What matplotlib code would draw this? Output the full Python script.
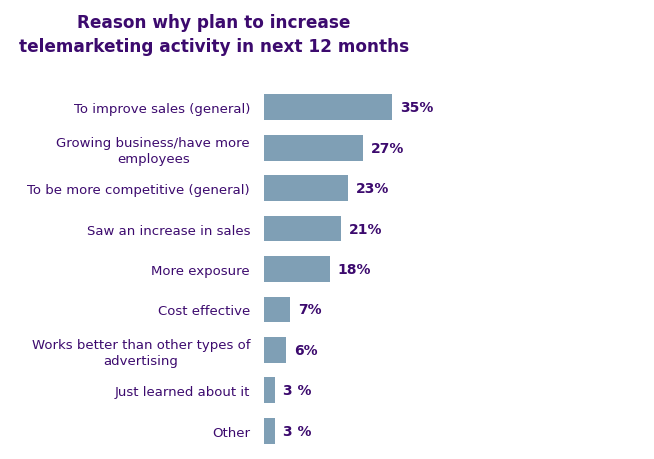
import numpy as np
import matplotlib.pyplot as plt

reasons = [
    "To improve sales (general)",
    "Growing business/have more\nemployees",
    "To be more competitive (general)",
    "Saw an increase in sales",
    "More exposure",
    "Cost effective",
    "Works better than other types of\nadvertising",
    "Just learned about it",
    "Other",
]
values = [35, 27, 23, 21, 18, 7, 6, 3, 3]
value_labels = ["35%", "27%", "23%", "21%", "18%", "7%", "6%", "3 %", "3 %"]

purple = "#3c0a6e"
bar_color = "#7f9fb5"

W, H = 654, 460
fig = plt.figure(figsize=(W / 100, H / 100), dpi=100)
# axes placed in pixel coords
ax = fig.add_axes([264 / W, (H - 452) / H, (W - 264) / W, (452 - 88) / H])

y = np.arange(len(values))
ax.barh(y, values, height=0.64, color=bar_color)
ax.set_ylim(len(values) - 0.5, -0.5)
ax.set_xlim(0, (W - 264) / 3.66)

for yi, v, lab in zip(y, values, value_labels):
    ax.text(v + 2.2, yi, lab, va="center", ha="left", fontsize=10,
            fontweight="bold", color=purple)

ax.set_yticks(y)
ax.set_yticklabels(reasons, fontsize=9.5, color=purple, linespacing=1.25,
                   multialignment="center")
ax.tick_params(axis="y", length=0, pad=10)
ax.set_xticks([])
for s in ax.spines.values():
    s.set_visible(False)

fig.text(214 / W, 1 - 35 / H, "Reason why plan to increase\ntelemarketing activity in next 12 months",
         ha="center", va="center", fontsize=12.2, fontweight="bold", color=purple,
         linespacing=1.4)

plt.savefig("out.png", dpi=100)
